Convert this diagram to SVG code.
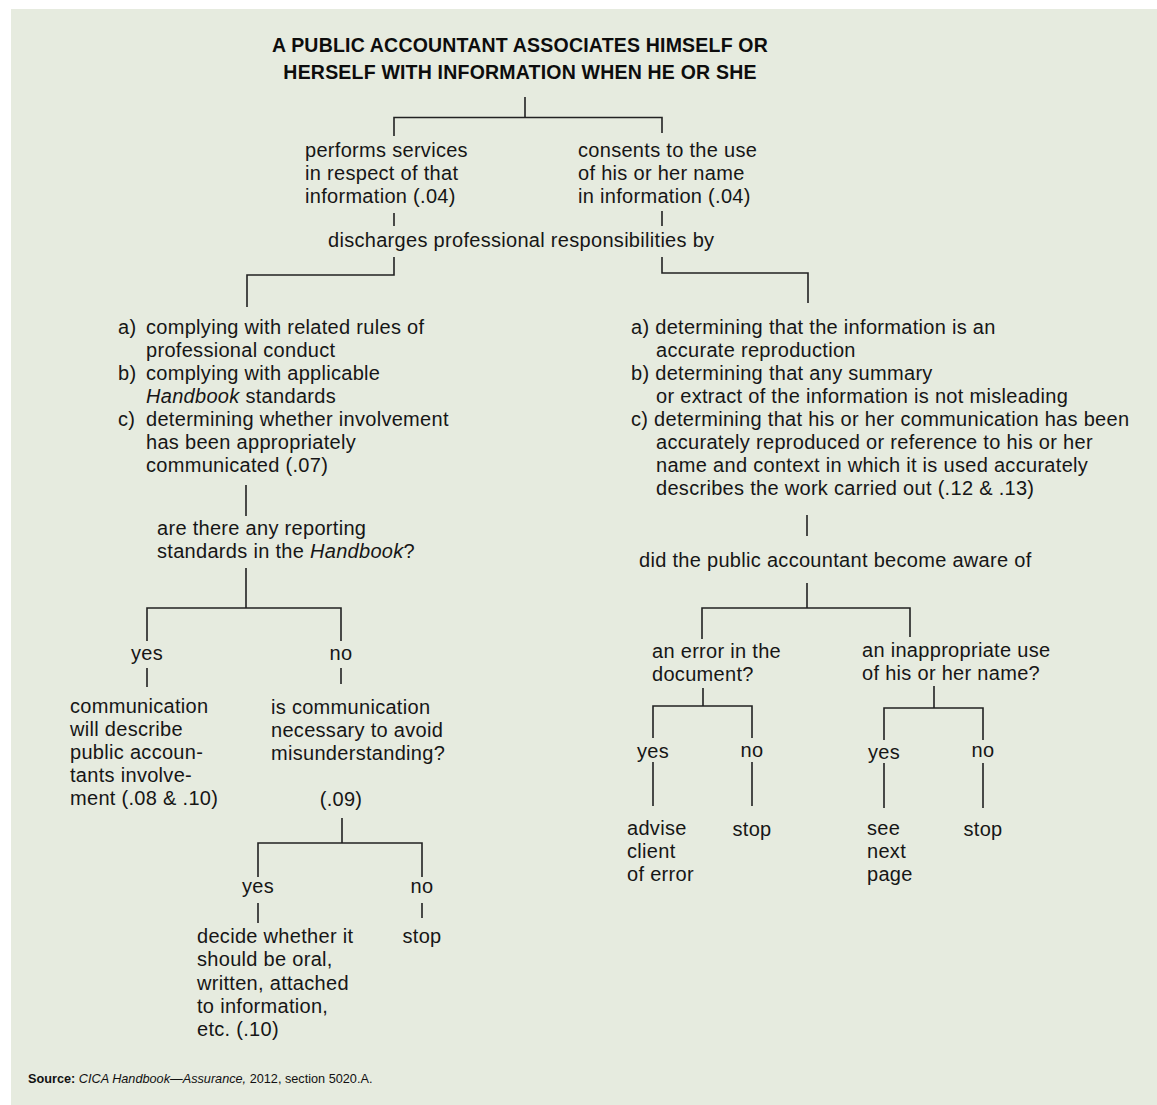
<svg xmlns="http://www.w3.org/2000/svg" width="1157" height="1105" viewBox="0 0 1157 1105">
  <style>
    .t { font-family: "Liberation Sans", Arial, Helvetica, sans-serif; font-size: 20px; letter-spacing: 0.3px; fill: #161616; }
    .m { text-anchor: middle; }
    .title { font-family: "Liberation Sans", Arial, Helvetica, sans-serif; font-size: 19.5px; font-weight: bold; letter-spacing: 0.2px; fill: #0d0d0d; text-anchor: middle; }
    .src { font-family: "Liberation Sans", Arial, Helvetica, sans-serif; font-size: 12.7px; fill: #111; }
    .link { fill: none; stroke: #222; stroke-width: 1.6; }
  </style>

  <rect x="0" y="0" width="1157" height="1105" fill="#ffffff"/>
  <rect x="11" y="9" width="1146" height="1096" fill="#e6ebdf"/>

  <!-- connectors -->
  <g id="connectors" class="link">
    <path d="M525 97 V117.5 M394 136 V117.5 H662 V133"/>
    <path d="M394 213 V226 M662 211 V226"/>
    <path d="M394 257 V275 H247 V307"/>
    <path d="M662 257 V273 H808 V303"/>
    <path d="M246 485 V516"/>
    <path d="M246 568 V608 M147 641 V608 H341 V641"/>
    <path d="M147 668 V687 M341 668 V684"/>
    <path d="M342 818 V843 M258 877 V843 H422 V877"/>
    <path d="M258 903 V923 M422 903 V918"/>
    <path d="M807 515 V536"/>
    <path d="M807 583 V608 M702 639 V608 H910 V637"/>
    <path d="M703 688 V706 M653 738 V706 H752 V738"/>
    <path d="M653 762 V806 M752 762 V806"/>
    <path d="M934 686 V708 M884 740 V708 H983 V740"/>
    <path d="M884 763 V808 M983 763 V808"/>
  </g>

  <g id="root">
    <text class="title" x="520" y="52">A PUBLIC ACCOUNTANT ASSOCIATES HIMSELF OR</text>
    <text class="title" x="520" y="79">HERSELF WITH INFORMATION WHEN HE OR SHE</text>
  </g>

  <g id="performs">
    <text class="t" x="305" y="157">performs services</text>
    <text class="t" x="305" y="180">in respect of that</text>
    <text class="t" x="305" y="203">information (.04)</text>
  </g>

  <g id="consents">
    <text class="t" x="578" y="157">consents to the use</text>
    <text class="t" x="578" y="180">of his or her name</text>
    <text class="t" x="578" y="203">in information (.04)</text>
  </g>

  <g id="discharges">
    <text class="t" x="328" y="247">discharges professional responsibilities by</text>
  </g>

  <g id="left-duties">
    <text class="t" x="118" y="334">a)</text>
    <text class="t" x="146" y="334">complying with related rules of</text>
    <text class="t" x="146" y="357">professional conduct</text>
    <text class="t" x="118" y="380">b)</text>
    <text class="t" x="146" y="380">complying with applicable</text>
    <text class="t" x="146" y="403"><tspan font-style="italic">Handbook</tspan> standards</text>
    <text class="t" x="118" y="426">c)</text>
    <text class="t" x="146" y="426">determining whether involvement</text>
    <text class="t" x="146" y="449">has been appropriately</text>
    <text class="t" x="146" y="472">communicated (.07)</text>
  </g>

  <g id="reporting-standards">
    <text class="t" x="157" y="535">are there any reporting</text>
    <text class="t" x="157" y="558">standards in the <tspan font-style="italic">Handbook</tspan>?</text>
  </g>

  <g id="rs-yes"><text class="t m" x="147" y="660">yes</text></g>
  <g id="rs-no"><text class="t m" x="341" y="660">no</text></g>

  <g id="describe-involvement">
    <text class="t" x="70" y="713">communication</text>
    <text class="t" x="70" y="736">will describe</text>
    <text class="t" x="70" y="759">public accoun-</text>
    <text class="t" x="70" y="782">tants involve-</text>
    <text class="t" x="70" y="805">ment (.08 &amp; .10)</text>
  </g>

  <g id="necessary">
    <text class="t" x="271" y="714">is communication</text>
    <text class="t" x="271" y="737">necessary to avoid</text>
    <text class="t" x="271" y="760">misunderstanding?</text>
    <text class="t m" x="341" y="806">(.09)</text>
  </g>

  <g id="nec-yes"><text class="t m" x="258" y="893">yes</text></g>
  <g id="nec-no"><text class="t m" x="422" y="893">no</text></g>

  <g id="decide-form">
    <text class="t" x="197" y="943">decide whether it</text>
    <text class="t" x="197" y="966">should be oral,</text>
    <text class="t" x="197" y="990">written, attached</text>
    <text class="t" x="197" y="1013">to information,</text>
    <text class="t" x="197" y="1036">etc. (.10)</text>
  </g>

  <g id="nec-stop"><text class="t m" x="422" y="943">stop</text></g>

  <g id="right-duties">
    <text class="t" x="631" y="334">a) determining that the information is an</text>
    <text class="t" x="656" y="357">accurate reproduction</text>
    <text class="t" x="631" y="380">b) determining that any summary</text>
    <text class="t" x="656" y="403">or extract of the information is not misleading</text>
    <text class="t" x="631" y="426">c) determining that his or her communication has been</text>
    <text class="t" x="656" y="449">accurately reproduced or reference to his or her</text>
    <text class="t" x="656" y="472">name and context in which it is used accurately</text>
    <text class="t" x="656" y="495">describes the work carried out (.12 &amp; .13)</text>
  </g>

  <g id="aware">
    <text class="t" x="639" y="567">did the public accountant become aware of</text>
  </g>

  <g id="error">
    <text class="t" x="652" y="658">an error in the</text>
    <text class="t" x="652" y="681">document?</text>
  </g>

  <g id="misuse">
    <text class="t" x="862" y="657">an inappropriate use</text>
    <text class="t" x="862" y="680">of his or her name?</text>
  </g>

  <g id="err-yes"><text class="t m" x="653" y="758">yes</text></g>
  <g id="err-no"><text class="t m" x="752" y="757">no</text></g>

  <g id="advise">
    <text class="t" x="627" y="835">advise</text>
    <text class="t" x="627" y="858">client</text>
    <text class="t" x="627" y="881">of error</text>
  </g>
  <g id="err-stop"><text class="t m" x="752" y="836">stop</text></g>

  <g id="mis-yes"><text class="t m" x="884" y="759">yes</text></g>
  <g id="mis-no"><text class="t m" x="983" y="757">no</text></g>

  <g id="next-page">
    <text class="t" x="867" y="835">see</text>
    <text class="t" x="867" y="858">next</text>
    <text class="t" x="867" y="881">page</text>
  </g>
  <g id="mis-stop"><text class="t m" x="983" y="836">stop</text></g>

  <text class="src" x="28" y="1083"><tspan font-weight="bold">Source:</tspan> <tspan font-style="italic">CICA Handbook—Assurance,</tspan> 2012, section 5020.A.</text>
</svg>
